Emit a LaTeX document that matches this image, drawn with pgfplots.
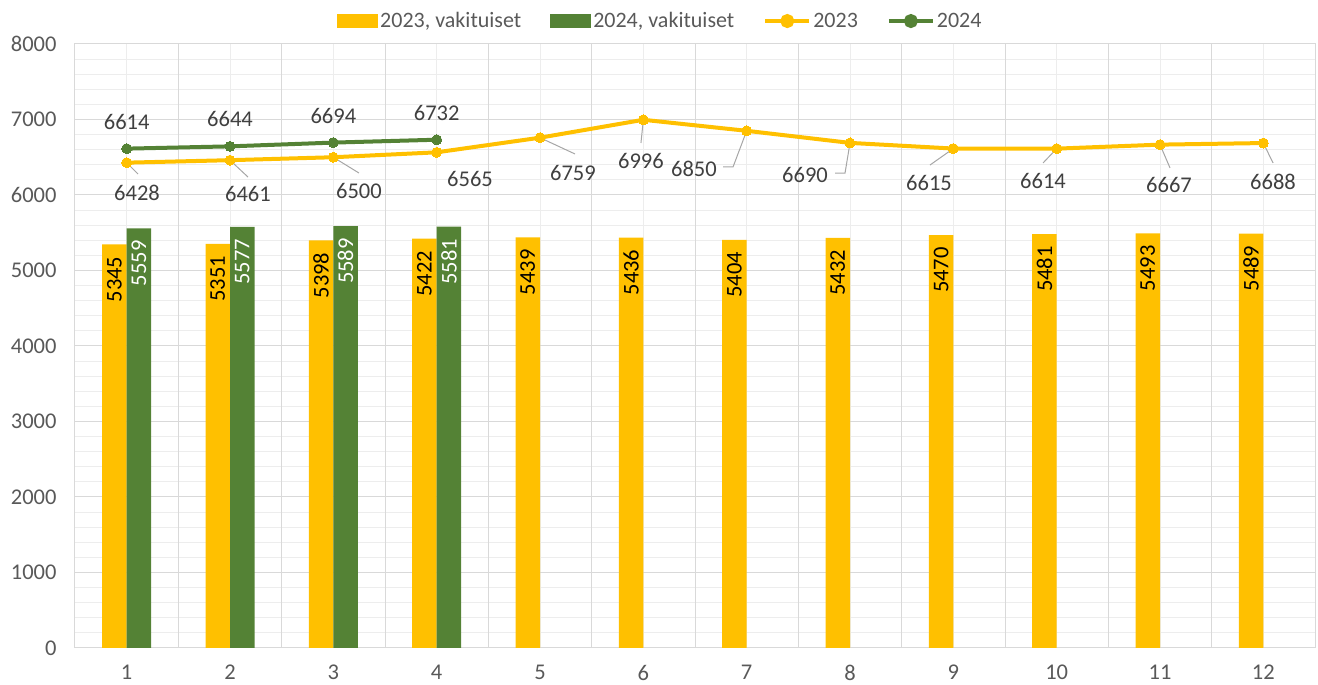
\documentclass[border=0pt]{standalone}
\usepackage{pgfplots}
\pgfplotsset{compat=1.18}
\usepackage{pgfplotstable}
\usepackage{fontspec}
\setmainfont{Carlito}
\definecolor{ygold}{HTML}{FFC000}
\definecolor{ggreen}{HTML}{548235}
\definecolor{gridmaj}{HTML}{D9D9D9}
\definecolor{gridmin}{HTML}{EDEDED}
\definecolor{tickgrey}{HTML}{595959}
\definecolor{labgrey}{HTML}{404040}
\definecolor{leadgrey}{HTML}{A6A6A6}

\pgfplotstableread{
x bar23 line23
1 5345 6428
2 5351 6461
3 5398 6500
4 5422 6565
5 5439 6759
6 5436 6996
7 5404 6850
8 5432 6690
9 5470 6615
10 5481 6614
11 5493 6667
12 5489 6688
}\dataA

\pgfplotstableread{
x bar24 line24
1 5559 6614
2 5577 6644
3 5589 6694
4 5581 6732
}\dataB

\pgfplotstableread{
x y label
1.100 6026 6428
2.174 6013 6461
3.248 6053 6500
4.323 6212 6565
5.319 6291 6759
5.977 6450 6996
6.490 6344 6850
7.565 6265 6690
8.765 6159 6615
9.868 6185 6614
11.087 6132 6667
12.094 6172 6688
}\labA

\pgfplotstableread{
x y
1 6428
1.110 6278
nan nan
2 6461
2.174 6238
nan nan
3 6500
3.248 6291
nan nan
5 6759
5.339 6543
nan nan
6 6996
5.977 6689
nan nan
7 6850
6.868 6371
6.771 6371
nan nan
8 6690
7.952 6291
7.855 6291
nan nan
9 6615
8.774 6397
nan nan
10 6614
9.868 6424
nan nan
11 6667
11.097 6358
nan nan
12 6688
12.094 6424
}\leaders

\begin{document}
\begin{tikzpicture}
\begin{axis}[
  name=ax,
  scale only axis, width=1240pt, height=604pt,
  xmin=0.5, xmax=12.5, ymin=0, ymax=8000,
  xtick={1,...,12},
  ytick={0,1000,...,8000},
  minor y tick num=4,
  minor xtick={1,...,12},
  extra x ticks={0.5,1.5,...,12.5},
  extra x tick labels={},
  extra x tick style={grid=major, major tick length=0pt},
  ymajorgrids, yminorgrids, xminorgrids,
  major grid style={draw=gridmaj, line width=1pt},
  minor grid style={draw=gridmin, line width=1pt},
  major tick length=0pt, minor tick length=0pt,
  axis line style={draw=gridmaj, line width=1pt},
  /pgf/number format/assume math mode=true,
  /pgf/number format/1000 sep={},
  scaled y ticks=false,
  tick label style={font=\fontsize{22.5}{26}\selectfont, text=tickgrey},
  xticklabel style={inner sep=0pt, text depth=0pt, yshift=-17pt},
  yticklabel style={xshift=-15pt},
  legend style={at={(0.2113,1.038)}, anchor=west, draw=none, fill=none,
    font=\fontsize{22}{26}\selectfont, text=tickgrey,
    inner sep=0pt, nodes={inner sep=2pt},
    /tikz/every even column/.append style={column sep=27pt}},
  legend columns=-1,
  legend cell align=left,
]
\addplot[ybar, bar width=24.5pt, bar shift=-12.25pt, fill=ygold, draw=none,
  nodes near coords, point meta=explicit symbolic,
  every node near coord/.append style={xshift=-12.25pt, rotate=90, anchor=east, inner xsep=12pt,
    font=\fontsize{22.5}{26}\selectfont, text=black},
  legend image code/.code={\fill[ygold] (0pt,-7pt) rectangle (41pt,7pt);}]
  table[x=x, y=bar23, meta=bar23] {\dataA};
\addlegendentry{2023, vakituiset}
\addplot[ybar, bar width=24.5pt, bar shift=12.25pt, fill=ggreen, draw=none,
  nodes near coords, point meta=explicit symbolic,
  every node near coord/.append style={xshift=12.25pt, rotate=90, anchor=east, inner xsep=12pt,
    font=\fontsize{22.5}{26}\selectfont, text=white},
  legend image code/.code={\fill[ggreen] (0pt,-7pt) rectangle (41pt,7pt);}]
  table[x=x, y=bar24, meta=bar24] {\dataB};
\addlegendentry{2024, vakituiset}
\addplot[draw=leadgrey, line width=1pt, unbounded coords=jump, mark=none, forget plot]
  table[x=x, y=y] {\leaders};
\addplot[ygold, line width=4pt, mark=*, mark size=5pt,
  mark options={fill=ygold, draw=ygold, line width=0pt},
  legend image code/.code={\draw[ygold, line width=4pt] (0pt,0pt) -- (44pt,0pt); \fill[ygold] (22pt,0pt) circle (5pt);}]
  table[x=x, y=line23] {\dataA};
\addlegendentry{2023}
\addplot[ggreen, line width=4pt, mark=*, mark size=5pt,
  mark options={fill=ggreen, draw=ggreen, line width=0pt},
  nodes near coords, point meta=explicit symbolic,
  every node near coord/.append style={anchor=center, yshift=27pt,
    font=\fontsize{22.5}{26}\selectfont, text=labgrey},
  legend image code/.code={\draw[ggreen, line width=4pt] (0pt,0pt) -- (44pt,0pt); \fill[ggreen] (22pt,0pt) circle (5pt);}]
  table[x=x, y=line24, meta=line24] {\dataB};
\addlegendentry{2024}
\addplot[draw=none, mark=none, forget plot,
  nodes near coords, point meta=explicit symbolic,
  every node near coord/.append style={anchor=center,
    font=\fontsize{22.5}{26}\selectfont, text=labgrey}]
  table[x=x, y=y, meta=label] {\labA};
\end{axis}
\pgfresetboundingbox
\path ([xshift=-75pt,yshift=-37pt]ax.south west) rectangle ([xshift=3pt,yshift=44pt]ax.north east);
\end{tikzpicture}
\end{document}
